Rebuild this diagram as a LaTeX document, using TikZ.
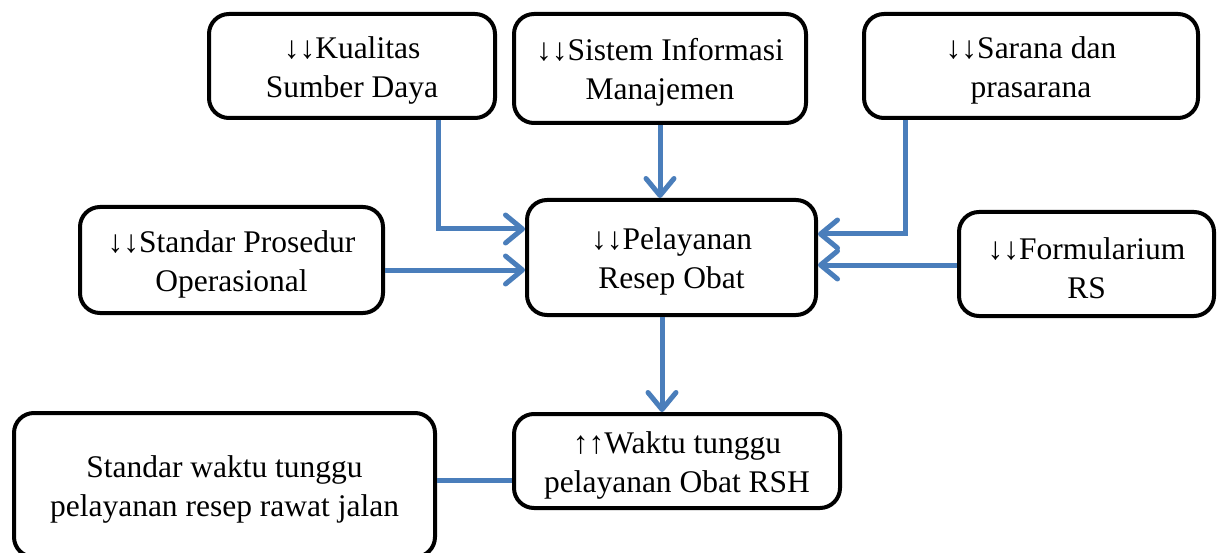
\documentclass[tikz,border=0pt]{standalone}
\usepackage{fontspec}
\setmainfont{Liberation Serif}
\usetikzlibrary{arrows.meta}
\definecolor{arrblue}{HTML}{4A7EBB}
\begin{document}
\begin{tikzpicture}[x=1pt,y=-1pt,
  box/.style={draw=black,line width=4pt,rounded corners=20pt,inner sep=0pt,
    minimum width=#1},
  txt/.style={label={[align=center,font=\fontsize{31.5}{39}\selectfont,inner sep=0pt,yshift=-4pt]center:#1}},
  conn/.style={draw=arrblue,line width=5pt},
  arr/.style={conn,-{Straight Barb[length=17pt,width=28pt,round]}}]
\useasboundingbox (0,0) rectangle (1222,553);
\node[box=286pt,minimum height=104pt,txt={↓↓Kualitas\\Sumber Daya}] (kual) at (352,66) {};
\node[box=292pt,minimum height=109pt,txt={↓↓Sistem Informasi\\Manajemen}] (sim) at (660,68.5) {};
\node[box=334pt,minimum height=104pt,txt={↓↓Sarana dan\\prasarana}] (sar) at (1031,66) {};
\node[box=303pt,minimum height=106pt,txt={↓↓Standar Prosedur\\Operasional}] (sop) at (231.5,260) {};
\node[box=289pt,minimum height=115pt,txt={↓↓Pelayanan\\Resep Obat}] (pel) at (671.5,257.5) {};
\node[box=255pt,minimum height=104pt,txt={↓↓Formularium\\RS}] (form) at (1086.5,264) {};
\node[box=326pt,minimum height=94pt,txt={↑↑Waktu tunggu\\pelayanan Obat RSH}] (wak) at (677,461) {};
\node[box=421pt,minimum height=144pt,txt={Standar waktu tunggu\\pelayanan resep rawat jalan}] (std) at (224.5,485) {};
\coordinate (k1) at (438,229);
\coordinate (s1) at (0,270);
\coordinate (r1) at (905,234);
\coordinate (f1) at (0,265);
\coordinate (m1) at (660,0);
\coordinate (p1) at (662,0);
\coordinate (w1) at (0,480);
\draw[arr] (kual.south -| k1) -- (k1) -- (pel.west |- k1);
\draw[arr] (sop.east |- s1) -- (pel.west |- s1);
\draw[arr] (sim.south -| m1) -- (pel.north -| m1);
\draw[arr] (sar.south -| r1) -- (r1) -- (pel.east |- r1);
\draw[arr] (form.west |- f1) -- (pel.east |- f1);
\draw[arr] (pel.south -| p1) -- (wak.north -| p1);
\draw[conn] (std.east |- w1) -- (wak.west |- w1);
\end{tikzpicture}
\end{document}
